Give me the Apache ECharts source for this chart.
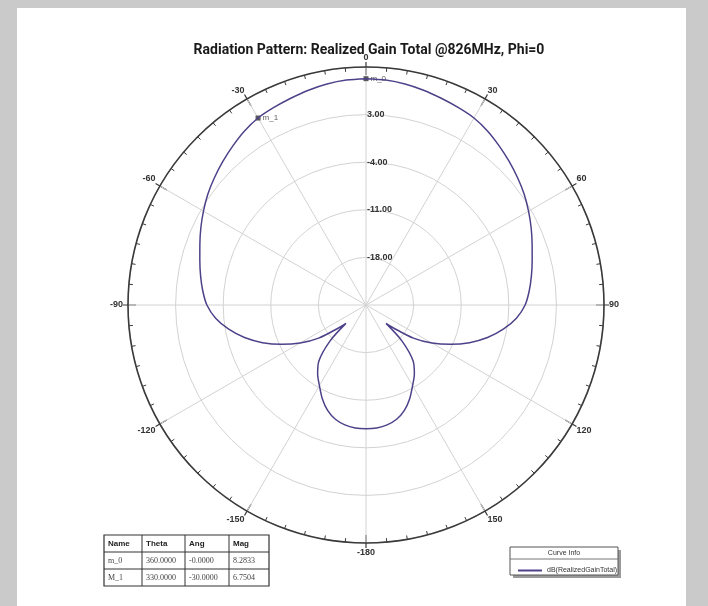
<!DOCTYPE html>
<html>
<head>
<meta charset="utf-8">
<script src="https://cdn.jsdelivr.net/npm/echarts@6/dist/echarts.min.js"></script>
<style>
  html, body { margin: 0; padding: 0; background: #cacaca; }
  #panel { position: absolute; left: 17px; top: 8px; width: 669px; height: 598px; background: #ffffff; }
  #chart { position: absolute; left: 0; top: 0; width: 708px; height: 606px; }
</style>
</head>
<body>
<div id="panel"></div>
<div id="chart"></div>
<script>
// theta in degrees (clockwise from top), gain in dB
const theta = [
  0, 5, 10, 15, 20, 25, 30, 35, 40, 45, 50, 55, 60, 65, 70, 75, 80, 85, 90,
  95, 100, 105, 110, 115, 120, 125, 130, 132.5, 135, 140, 145, 150, 155, 160, 165, 170, 175, 180,
  185, 190, 195, 200, 205, 210, 215, 220, 225, 227.5, 230, 235, 240, 245, 250, 255, 260, 265, 270,
  275, 280, 285, 290, 295, 300, 305, 310, 315, 320, 325, 330, 335, 340, 345, 350, 355, 360
]
const gain = [
  8.28, 8.2, 8.0, 7.7, 7.35, 7.05, 6.75, 6.2, 5.5, 4.8, 4.1, 3.4, 2.6, 1.8, 1.0, 0.3, -0.3, -0.9, -1.6,
  -2.8, -4.5, -6.5, -8.8, -11.3, -13.8, -16.5, -19.8, -21.0, -17.5, -14.2, -12.6, -11.3, -9.8, -8.5, -7.6, -7.1, -6.85, -6.8,
  -6.85, -7.1, -7.6, -8.5, -9.8, -11.3, -12.6, -14.2, -17.5, -21.0, -19.8, -16.5, -13.8, -11.3, -8.8, -6.5, -4.5, -2.8, -1.6,
  -0.9, -0.3, 0.3, 1.0, 1.8, 2.6, 3.4, 4.1, 4.8, 5.5, 6.2, 6.75, 7.05, 7.35, 7.7, 8.0, 8.2, 8.28
]

// markers
const markerNames = ['m_0', 'm_1']
const markerTheta = [0, 330]
const markerMag = [8.2833, 6.7504]

// marker table
const tableHeader = ['Name', 'Theta', 'Ang', 'Mag']
const tableRows = [
  ['m_0', '360.0000', '-0.0000', '8.2833'],
  ['M_1', '330.0000', '-30.0000', '6.7504']
]

const rMin = -25
const rMax = 10
const rStep = 7
const curveName = 'dB(RealizedGainTotal)'
const curveColor = '#4f4189'

const chart = echarts.init(document.getElementById('chart'))

const center = [366, 305]
const radius = 238

// table graphic
const colX = [104, 142, 185, 229, 269]
const rowY = [535, 552, 569, 586]
const tableEls = []
tableEls.push({
  type: 'rect',
  shape: { x: colX[0], y: rowY[0], width: colX[4] - colX[0], height: rowY[3] - rowY[0] },
  style: { fill: '#fff', stroke: '#333', lineWidth: 1.2 }
})
for (let i = 1; i < 4; i++) {
  tableEls.push({ type: 'line', shape: { x1: colX[i], y1: rowY[0], x2: colX[i], y2: rowY[3] }, style: { stroke: '#333', lineWidth: 1 } })
}
for (let j = 1; j < 3; j++) {
  tableEls.push({ type: 'line', shape: { x1: colX[0], y1: rowY[j], x2: colX[4], y2: rowY[j] }, style: { stroke: '#333', lineWidth: 1 } })
}
tableHeader.forEach((h, i) => {
  tableEls.push({
    type: 'text', x: colX[i] + 4, y: (rowY[0] + rowY[1]) / 2,
    style: { text: h, fill: '#222', font: 'bold 8px "Liberation Sans"', verticalAlign: 'middle' }
  })
})
tableRows.forEach((row, j) => {
  row.forEach((v, i) => {
    tableEls.push({
      type: 'text', x: colX[i] + 4, y: (rowY[j + 1] + rowY[j + 2]) / 2,
      style: { text: v, fill: '#444', font: '8px "Liberation Serif"', verticalAlign: 'middle' }
    })
  })
})

// curve info box
const infoEls = [
  { type: 'rect', shape: { x: 513, y: 550, width: 108, height: 28 }, style: { fill: '#9a9a9a' } },
  { type: 'rect', shape: { x: 510, y: 547, width: 108, height: 28 }, style: { fill: '#fff', stroke: '#555', lineWidth: 1 } },
  { type: 'line', shape: { x1: 510, y1: 559, x2: 618, y2: 559 }, style: { stroke: '#777', lineWidth: 1 } },
  { type: 'text', x: 564, y: 553, style: { text: 'Curve Info', fill: '#333', font: '7px "Liberation Sans"', align: 'center', verticalAlign: 'middle' } }
]

const option = {
  animation: false,
  title: {
    text: 'Radiation Pattern: Realized Gain Total @826MHz, Phi=0',
    left: 364,
    textAlign: 'center',
    top: 38,
    textStyle: { fontFamily: 'Roboto', fontWeight: 'bold', fontSize: 14, color: '#1a1a1a' }
  },
  legend: {
    data: [{ name: curveName, icon: 'rect' }],
    left: 513,
    top: 562,
    itemWidth: 24,
    itemHeight: 2,
    itemGap: 4,
    textStyle: { fontSize: 7, color: '#333', fontFamily: 'Liberation Sans' }
  },
  polar: [
    { center: center, radius: radius },
    { center: center, radius: radius }
  ],
  angleAxis: [
    {
      polarIndex: 0,
      type: 'value',
      min: 0,
      max: 360,
      interval: 30,
      startAngle: 90,
      clockwise: true,
      axisLine: { lineStyle: { color: '#3a3a3a', width: 1.6 } },
      axisTick: { inside: true, length: 8, lineStyle: { color: '#3a3a3a', width: 1.2 } },
      minorTick: { show: true, splitNumber: 6, length: 4, lineStyle: { color: '#3a3a3a', width: 1 } },
      axisLabel: {
        margin: 5,
        fontSize: 9,
        fontWeight: 'bold',
        color: '#333',
        formatter: v => (v === 360 ? '' : v >= 180 ? String(v - 360) : String(v))
      },
      splitLine: { show: true, lineStyle: { color: '#d2d2d2', width: 1 } }
    },
    {
      polarIndex: 1,
      type: 'value',
      min: 0,
      max: 360,
      interval: 30,
      startAngle: 90,
      clockwise: true,
      axisLine: { show: false },
      axisTick: { show: true, inside: false, length: 5, lineStyle: { color: '#3a3a3a', width: 1.2 } },
      axisLabel: { show: false },
      splitLine: { show: false }
    }
  ],
  radiusAxis: [
    {
      polarIndex: 0,
      type: 'value',
      min: rMin,
      max: rMax,
      interval: rStep,
      axisLine: { show: false },
      axisTick: { show: false },
      axisLabel: {
        fontSize: 9,
        fontWeight: 'bold',
        color: '#333',
        align: 'left',
        margin: -1,
        formatter: v => (v === rMin || v === rMax ? '' : v.toFixed(2))
      },
      splitLine: { show: true, lineStyle: { color: '#d2d2d2', width: 1 } }
    },
    { polarIndex: 1, type: 'value', min: rMin, max: rMax, show: false }
  ],
  series: [
    {
      name: curveName,
      type: 'line',
      coordinateSystem: 'polar',
      polarIndex: 0,
      showSymbol: false,
      smooth: 0.3,
      data: theta.map((t, i) => [gain[i], t]),
      lineStyle: { color: curveColor, width: 1.5 },
      itemStyle: { color: curveColor }
    },
    {
      name: 'markers',
      type: 'scatter',
      coordinateSystem: 'polar',
      polarIndex: 0,
      symbol: 'rect',
      symbolSize: 5,
      itemStyle: { color: '#333' },
      label: {
        show: true,
        position: 'right',
        distance: 2,
        fontSize: 8,
        color: '#333',
        formatter: p => p.name
      },
      data: markerNames.map((n, i) => ({ name: n, value: [markerMag[i], markerTheta[i]] }))
    }
  ],
  graphic: tableEls.concat(infoEls)
}

chart.setOption(option)
</script>
</body>
</html>
